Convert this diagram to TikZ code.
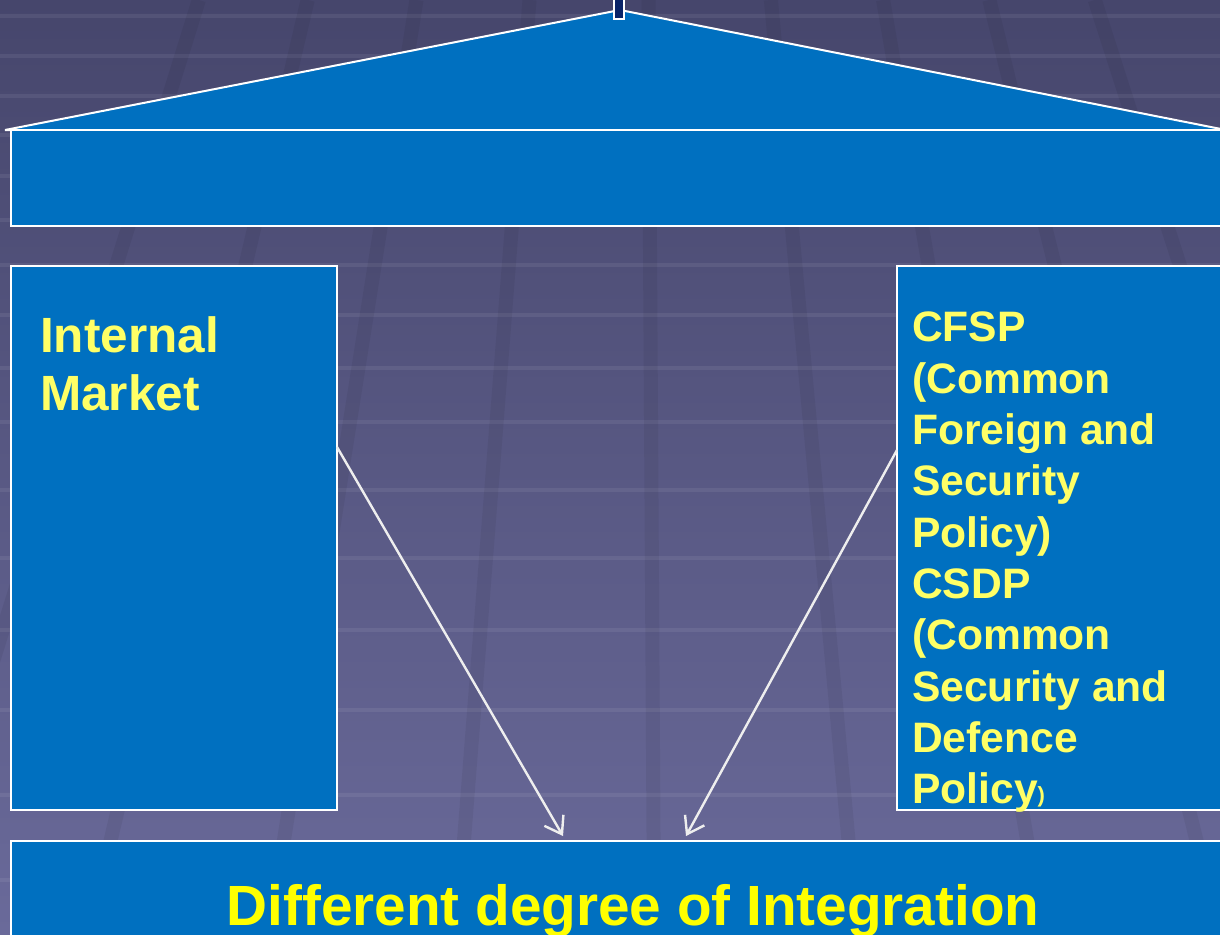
\documentclass[tikz,border=0pt]{standalone}
\usepackage{fontspec}
\setmainfont{Liberation Sans}
\usetikzlibrary{arrows.meta}
\definecolor{boxblue}{HTML}{0070C0}
\definecolor{bgtop}{HTML}{46466C}
\definecolor{bgbot}{HTML}{6A6A9A}
\definecolor{txtyel}{HTML}{FFFF66}
\definecolor{titleyel}{HTML}{FFFF00}
\definecolor{navyblock}{HTML}{0A2468}
\definecolor{arrowgrey}{HTML}{EEEEEE}
\begin{document}
\begin{tikzpicture}[x=1pt,y=-1pt,
  panel/.style={draw=white, line width=2pt, fill=boxblue, inner sep=0pt, outer sep=0pt},
  boxtext/.style={text=txtyel, inner sep=0pt, align=left, anchor=north west},
  link/.style={draw=arrowgrey, line width=2.4pt, -{Straight Barb[length=16pt,width=22pt,line width=2.4pt]}},
  hline/.style={white, opacity=0.07, line width=4pt},
  vband/.style={black, opacity=0.055, line width=14pt}]
\useasboundingbox (0,0) rectangle (1220,934);
% background
\shade[top color=bgtop, bottom color=bgbot] (0,0) rectangle (1220,934);
\foreach \yy in {16,56,96,135,176,220,265,315,368,422,490,558,630,710,795,880}
  \draw[hline] (0,\yy) -- (1220,\yy);
\foreach \xx in {121,249,377,510,650,794,926,1051,1175}
  \draw[vband] ({640+(\xx-640)*0.85},0) -- ({640+(\xx-640)*1.41},934);
% roof
\draw[panel, line join=miter] (620,10) -- (1226,130) -- (5,130) -- cycle;
\fill[navyblock, draw=white, line width=1.5pt] (614,-2) rectangle (624,19);
% beam
\node[panel, anchor=north west, minimum width=1220pt, minimum height=96pt] (beam) at (11,130) {};
% pillars
\node[panel, anchor=north west, minimum width=326pt, minimum height=544pt] (left) at (11,266) {};
\node[panel, anchor=north west, minimum width=330pt, minimum height=544pt] (right) at (897,266) {};
% foundation
\node[panel, anchor=north west, minimum width=1220pt, minimum height=100pt] (base) at (11,841) {};
% texts
\node[boxtext, font=\fontsize{49.5}{58}\selectfont\bfseries] (imtext) at (40,316) {Internal\\Market};
\node[boxtext, font=\fontsize{42.6}{51.3}\selectfont\bfseries] (cfsptext) at (912,312)
  {CFSP\\(Common\\Foreign and\\Security\\Policy)\\CSDP\\(Common\\Security and\\Defence\\Policy{\fontsize{22}{22}\selectfont\raisebox{1pt})}};
\node[text=titleyel, inner sep=0pt, anchor=base, font=\fontsize{56.7}{60}\selectfont\bfseries] (title) at (633,925) {Different degree of Integration};
% arrows
\coordinate (s1) at (337,447);
\coordinate (t1) at (563,836);
\coordinate (s2) at (897,450);
\coordinate (t2) at (686,836);
\draw[link] (s1) -- (t1);
\draw[link] (s2) -- (t2);
\end{tikzpicture}
\end{document}
